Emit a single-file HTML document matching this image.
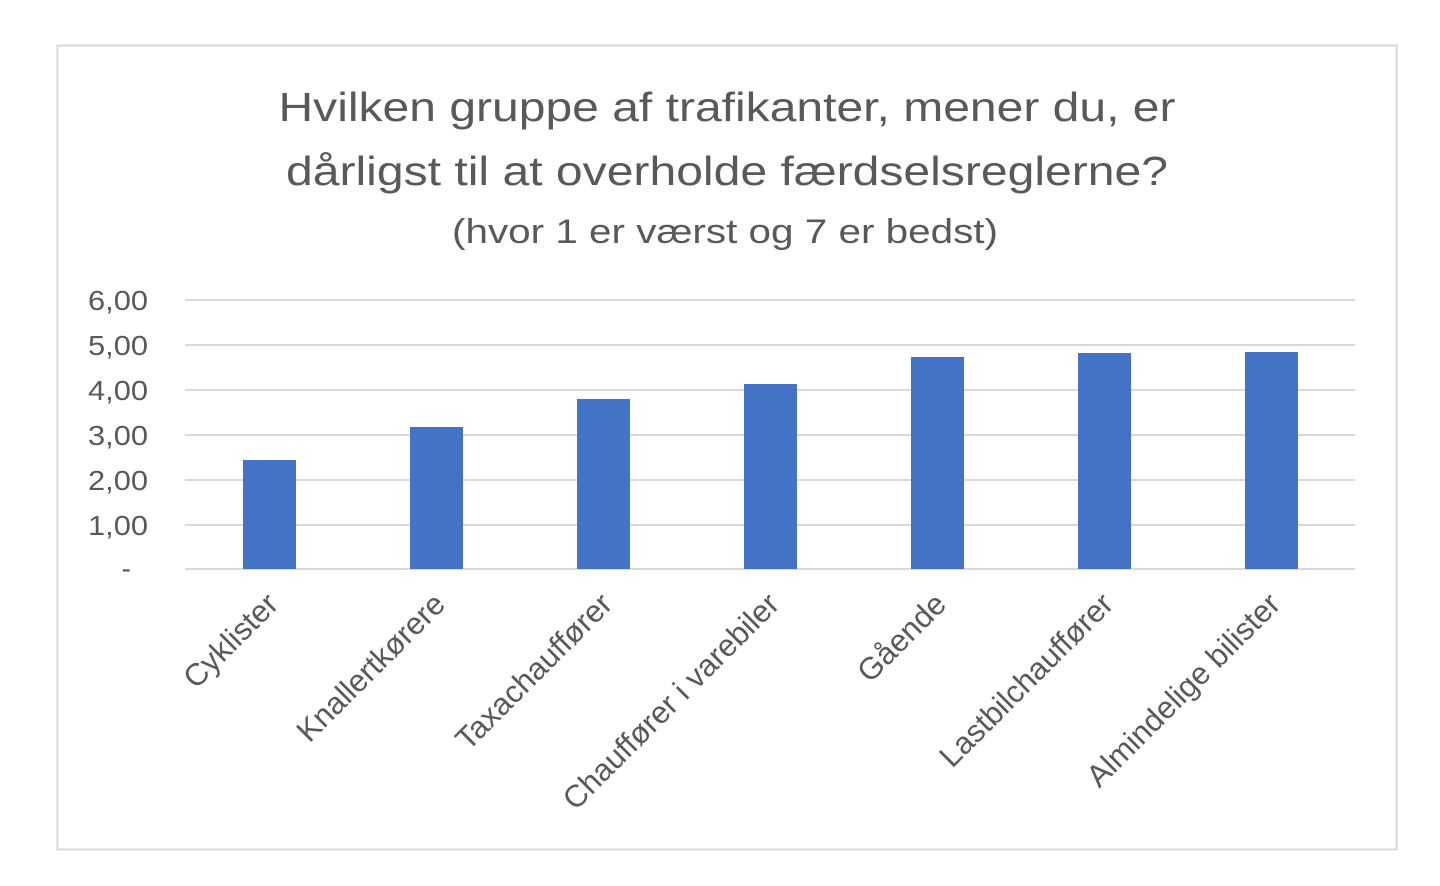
<!DOCTYPE html>
<html><head><meta charset="utf-8"><style>
html,body{margin:0;padding:0;background:#fff;}
svg{display:block;font-family:"Liberation Sans","DejaVu Sans",sans-serif;}
</style></head><body>
<svg width="1440" height="886" viewBox="0 0 1440 886" xmlns="http://www.w3.org/2000/svg">
<rect x="0" y="0" width="1440" height="886" fill="#fff"/>
<rect x="57.5" y="45.5" width="1339" height="804" fill="#fff" stroke="#d9d9d9" stroke-width="2"/>
<g fill="#595959" text-anchor="middle">
<text x="727" y="121" font-size="41" textLength="897" lengthAdjust="spacingAndGlyphs">Hvilken gruppe af trafikanter, mener du, er</text>
<text x="727" y="185" font-size="41" textLength="882" lengthAdjust="spacingAndGlyphs">dårligst til at overholde færdselsreglerne?</text>
<text x="725" y="243" font-size="34" textLength="546" lengthAdjust="spacingAndGlyphs">(hvor 1 er værst og 7 er bedst)</text>
</g>
<g stroke="#d9d9d9" stroke-width="2">
<line x1="185" x2="1355" y1="300" y2="300"/>
<line x1="185" x2="1355" y1="345" y2="345"/>
<line x1="185" x2="1355" y1="390" y2="390"/>
<line x1="185" x2="1355" y1="435" y2="435"/>
<line x1="185" x2="1355" y1="480" y2="480"/>
<line x1="185" x2="1355" y1="525" y2="525"/>
<line x1="185" x2="1355" y1="569" y2="569"/>
</g>
<g fill="#595959" font-size="28" text-anchor="end">
<text x="148" y="310" textLength="60" lengthAdjust="spacingAndGlyphs">6,00</text>
<text x="148" y="355" textLength="60" lengthAdjust="spacingAndGlyphs">5,00</text>
<text x="148" y="400" textLength="60" lengthAdjust="spacingAndGlyphs">4,00</text>
<text x="148" y="445" textLength="60" lengthAdjust="spacingAndGlyphs">3,00</text>
<text x="148" y="490" textLength="60" lengthAdjust="spacingAndGlyphs">2,00</text>
<text x="148" y="535" textLength="60" lengthAdjust="spacingAndGlyphs">1,00</text>
<text x="131" y="578">-</text>
</g>
<g fill="#4472c4">
<rect x="243" y="460" width="53" height="109"/>
<rect x="410" y="427" width="53" height="142"/>
<rect x="577" y="399" width="53" height="170"/>
<rect x="744" y="384" width="53" height="185"/>
<rect x="911" y="357" width="53" height="212"/>
<rect x="1078" y="353" width="53" height="216"/>
<rect x="1245" y="352" width="53" height="217"/>
</g>
<g fill="#595959" font-size="31" text-anchor="end">
<text transform="translate(280,606) rotate(-45)">Cyklister</text>
<text transform="translate(447,606) rotate(-45)">Knallertkørere</text>
<text transform="translate(614,606) rotate(-45)">Taxachauffører</text>
<text transform="translate(781,606) rotate(-45)">Chauffører i varebiler</text>
<text transform="translate(948,606) rotate(-45)">Gående</text>
<text transform="translate(1115,606) rotate(-45)">Lastbilchauffører</text>
<text transform="translate(1282,606) rotate(-45)">Almindelige bilister</text>
</g>
</svg>
</body></html>
